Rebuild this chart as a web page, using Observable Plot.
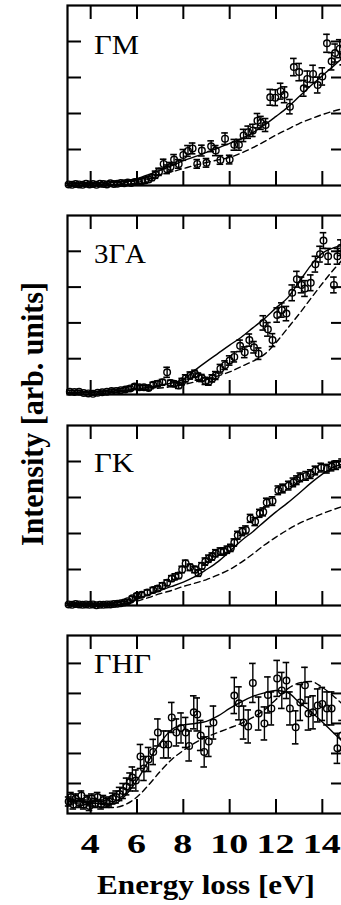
<!DOCTYPE html>
<html>
<head>
<meta charset="utf-8">
<script src="https://cdn.jsdelivr.net/npm/d3@7"></script>
<script src="https://cdn.jsdelivr.net/npm/@observablehq/plot@0.6"></script>
<style>
  html, body { margin: 0; padding: 0; background: #fff; }
  body { width: 341px; height: 905px; overflow: hidden; position: relative; }
  .panel { position: absolute; left: 0; }
  .panel svg { max-width: none !important; overflow: visible; }
  #labels { position: absolute; left: 0; top: 0; pointer-events: none; }
  #labels text { font-family: "Liberation Serif", "Times New Roman", Times, serif; }
</style>
</head>
<body>
<div id="root"></div>
<script>
// ---------- tick labels / names ----------
const energyTicks = [4, 6, 8, 10, 12, 14];
const intensityTicks5 = [1, 2, 3, 4];
const intensityTicks6 = [1, 2, 3, 4, 5];
const panelLabels = ["ΓM", "3ΓA", "ΓK", "ΓHΓ"];
const xAxisLabel = "Energy loss [eV]";
const yAxisLabel = "Intensity [arb. units]";

// ---------- theory curves (shared energy grid) ----------
const curveX = [3, 4, 5, 5.5, 6, 6.5, 7, 7.5, 8, 8.5, 9, 9.5, 10, 10.5, 11, 11.5, 12, 12.5, 13, 13.5, 14, 14.5, 15];
const gmSolid   = [0, 0, 0.02, 0.08, 0.19, 0.3, 0.42, 0.55, 0.69, 0.8, 0.92, 1.04, 1.17, 1.3, 1.47, 1.68, 1.92, 2.17, 2.47, 2.77, 3.05, 3.33, 3.62];
const gmDashed  = [0, 0, 0, 0.02, 0.08, 0.18, 0.3, 0.38, 0.47, 0.56, 0.64, 0.71, 0.78, 0.9, 1.05, 1.22, 1.4, 1.56, 1.72, 1.85, 1.97, 2.07, 2.15];
const gaSolid   = [0.05, 0.07, 0.1, 0.12, 0.15, 0.2, 0.26, 0.32, 0.42, 0.68, 0.92, 1.15, 1.38, 1.6, 1.86, 2.12, 2.42, 2.7, 3.15, 3.6, 3.95, 4.1, 4.2];
const gaDashed  = [0.05, 0.06, 0.08, 0.1, 0.12, 0.15, 0.18, 0.22, 0.28, 0.35, 0.42, 0.52, 0.63, 0.78, 0.93, 1.12, 1.45, 1.85, 2.25, 2.68, 3.1, 3.5, 3.85];
const gkSolid   = [0.03, 0.03, 0.03, 0.06, 0.18, 0.3, 0.42, 0.53, 0.65, 0.8, 1.0, 1.22, 1.5, 1.8, 2.05, 2.33, 2.6, 2.85, 3.12, 3.4, 3.65, 3.85, 3.95];
const gkDashed  = [0.02, 0.02, 0.02, 0.04, 0.12, 0.22, 0.33, 0.42, 0.53, 0.62, 0.72, 0.85, 1.0, 1.2, 1.43, 1.68, 1.9, 2.1, 2.28, 2.42, 2.55, 2.67, 2.78];
const ghSolid   = [0.5, 0.35, 0.32, 0.6, 1.1, 1.75, 2.35, 2.8, 2.95, 3.0, 3.07, 3.25, 3.5, 3.72, 3.9, 4.02, 4.1, 4.03, 3.7, 3.4, 3.05, 2.67, 2.3];
const ghDashed  = [0.3, 0.25, 0.2, 0.3, 0.55, 0.95, 1.4, 1.8, 2.1, 2.35, 2.55, 2.7, 2.85, 3.0, 3.2, 3.45, 3.8, 4.15, 4.35, 4.4, 4.2, 3.9, 3.55];

// ---------- experimental points ----------
const gmX = [3.05, 3.2, 3.35, 3.5, 3.65, 3.8, 3.95, 4.1, 4.25, 4.4, 4.55, 4.7, 4.85, 5.0, 5.15, 5.3, 5.45, 5.6, 5.75, 5.9, 6.05, 6.2, 6.35, 6.5, 6.65, 6.8, 6.95, 7.15, 7.3, 7.45, 7.6, 7.8, 8.0, 8.2, 8.4, 8.6, 8.8, 9.0, 9.2, 9.4, 9.6, 9.8, 10.0, 10.2, 10.4, 10.6, 10.8, 11.0, 11.2, 11.35, 11.55, 11.75, 11.97, 12.2, 12.37, 12.6, 12.77, 13.0, 13.2, 13.35, 13.6, 13.8, 14.0, 14.2, 14.4, 14.55, 14.75, 14.9];
const gmY = [0.03, 0.02, 0.04, 0.03, 0.02, 0.05, 0.03, 0.04, 0.02, 0.05, 0.04, 0.03, 0.06, 0.04, 0.05, 0.07, 0.06, 0.08, 0.07, 0.1, 0.1, 0.12, 0.14, 0.17, 0.22, 0.3, 0.38, 0.6, 0.45, 0.52, 0.72, 0.6, 0.85, 0.96, 1.03, 0.6, 0.97, 0.63, 1.09, 0.97, 0.71, 1.3, 0.72, 1.13, 1.13, 1.39, 1.48, 1.53, 1.8, 1.74, 1.68, 2.45, 2.44, 2.62, 2.52, 2.19, 3.29, 3.15, 2.7, 2.96, 3.1, 2.79, 3.03, 3.95, 3.45, 3.68, 3.8, 3.6];
const gmErr = [0.03, 0.03, 0.03, 0.03, 0.03, 0.03, 0.03, 0.03, 0.03, 0.03, 0.03, 0.03, 0.04, 0.04, 0.04, 0.04, 0.05, 0.05, 0.05, 0.06, 0.06, 0.07, 0.07, 0.08, 0.08, 0.1, 0.1, 0.13, 0.12, 0.12, 0.14, 0.12, 0.15, 0.15, 0.15, 0.12, 0.15, 0.12, 0.15, 0.14, 0.12, 0.16, 0.12, 0.15, 0.15, 0.17, 0.17, 0.17, 0.2, 0.18, 0.18, 0.22, 0.22, 0.22, 0.22, 0.2, 0.24, 0.24, 0.22, 0.22, 0.24, 0.22, 0.24, 0.25, 0.24, 0.25, 0.25, 0.25];

const gaX = [3.1, 3.3, 3.5, 3.7, 3.9, 4.1, 4.3, 4.5, 4.7, 4.9, 5.1, 5.3, 5.5, 5.7, 5.9, 6.1, 6.3, 6.5, 6.7, 6.9, 7.1, 7.3, 7.45, 7.6, 7.8, 7.95, 8.1, 8.3, 8.5, 8.65, 8.8, 8.95, 9.1, 9.25, 9.4, 9.6, 9.8, 10.0, 10.2, 10.45, 10.65, 10.85, 11.05, 11.25, 11.45, 11.65, 11.85, 12.05, 12.25, 12.45, 12.7, 12.9, 13.1, 13.25, 13.5, 13.7, 13.9, 14.05, 14.25, 14.5, 14.65, 14.8];
const gaY = [0.08, 0.07, 0.08, 0.04, 0.03, 0.02, 0.05, 0.06, 0.08, 0.1, 0.1, 0.12, 0.14, 0.17, 0.22, 0.2, 0.2, 0.18, 0.27, 0.3, 0.34, 0.62, 0.32, 0.3, 0.25, 0.36, 0.45, 0.53, 0.58, 0.5, 0.46, 0.38, 0.36, 0.45, 0.53, 0.72, 0.82, 0.95, 1.05, 1.36, 1.18, 1.52, 1.32, 1.14, 2.0, 1.82, 1.52, 2.22, 2.36, 2.26, 2.84, 3.22, 3.06, 2.96, 3.12, 3.64, 3.92, 4.3, 3.86, 3.06, 3.86, 4.1];
const gaErr = [0.04, 0.04, 0.04, 0.04, 0.04, 0.04, 0.04, 0.04, 0.04, 0.05, 0.05, 0.05, 0.05, 0.06, 0.06, 0.06, 0.06, 0.06, 0.07, 0.08, 0.08, 0.14, 0.08, 0.08, 0.08, 0.09, 0.1, 0.1, 0.1, 0.1, 0.1, 0.1, 0.1, 0.1, 0.11, 0.12, 0.12, 0.13, 0.14, 0.16, 0.15, 0.17, 0.16, 0.16, 0.2, 0.19, 0.18, 0.2, 0.2, 0.2, 0.22, 0.22, 0.22, 0.22, 0.22, 0.22, 0.22, 0.22, 0.22, 0.22, 0.22, 0.22];

const gkX = [3.05, 3.2, 3.35, 3.5, 3.65, 3.8, 3.95, 4.1, 4.25, 4.4, 4.55, 4.7, 4.85, 5.0, 5.15, 5.3, 5.45, 5.6, 5.8, 6.0, 6.2, 6.45, 6.7, 6.9, 7.1, 7.3, 7.5, 7.65, 7.8, 7.95, 8.1, 8.3, 8.5, 8.65, 8.8, 8.95, 9.1, 9.25, 9.4, 9.6, 9.75, 9.9, 10.05, 10.2, 10.35, 10.55, 10.7, 10.9, 11.1, 11.3, 11.45, 11.6, 11.85, 12.1, 12.3, 12.55, 12.75, 12.9, 13.05, 13.3, 13.5, 13.7, 13.95, 14.2, 14.4, 14.6, 14.85];
const gkY = [0.03, 0.02, 0.04, 0.03, 0.02, 0.03, 0.02, 0.03, 0.01, 0.02, 0.02, 0.03, 0.03, 0.04, 0.05, 0.06, 0.08, 0.12, 0.2, 0.27, 0.3, 0.36, 0.43, 0.47, 0.55, 0.63, 0.75, 0.8, 0.83, 1.0, 1.17, 1.06, 1.0, 0.9, 1.1, 1.22, 1.3, 1.36, 1.45, 1.5, 1.5, 1.55, 1.6, 1.75, 1.95, 2.05, 2.1, 2.42, 2.33, 2.56, 2.6, 2.86, 2.9, 3.2, 3.25, 3.33, 3.42, 3.48, 3.56, 3.6, 3.65, 3.75, 3.83, 3.8, 3.86, 3.9, 3.95];
const gkErr = [0.03, 0.03, 0.03, 0.03, 0.03, 0.03, 0.03, 0.03, 0.03, 0.03, 0.03, 0.03, 0.03, 0.03, 0.03, 0.04, 0.04, 0.05, 0.05, 0.06, 0.06, 0.07, 0.07, 0.07, 0.08, 0.08, 0.08, 0.08, 0.08, 0.09, 0.09, 0.09, 0.09, 0.09, 0.09, 0.1, 0.1, 0.1, 0.1, 0.1, 0.1, 0.1, 0.1, 0.1, 0.11, 0.11, 0.11, 0.11, 0.11, 0.11, 0.11, 0.12, 0.12, 0.12, 0.12, 0.12, 0.12, 0.12, 0.12, 0.12, 0.12, 0.12, 0.12, 0.12, 0.12, 0.12, 0.12];

const ghX = [3.05, 3.15, 3.25, 3.35, 3.5, 3.6, 3.7, 3.85, 3.95, 4.05, 4.2, 4.3, 4.45, 4.55, 4.7, 4.8, 4.95, 5.1, 5.25, 5.4, 5.55, 5.7, 5.8, 5.95, 6.15, 6.3, 6.5, 6.7, 6.9, 7.15, 7.35, 7.5, 7.7, 7.9, 8.1, 8.25, 8.45, 8.6, 8.75, 8.9, 9.1, 9.3, 10.2, 10.4, 10.6, 10.8, 11.0, 11.25, 11.5, 11.65, 11.8, 12.05, 12.25, 12.45, 12.6, 12.85, 13.05, 13.25, 13.4, 13.6, 13.8, 14.0, 14.2, 14.4, 14.65, 14.85];
const ghY = [0.4, 0.55, 0.3, 0.5, 0.35, 0.6, 0.3, 0.45, 0.25, 0.5, 0.35, 0.55, 0.3, 0.45, 0.35, 0.4, 0.5, 0.55, 0.65, 0.75, 0.9, 1.05, 1.2, 1.1, 1.9, 1.5, 1.8, 2.05, 2.7, 2.3, 2.3, 3.2, 2.7, 2.85, 2.7, 2.25, 3.37, 3.3, 2.6, 2.05, 2.4, 3.03, 3.93, 3.67, 3.03, 2.9, 4.35, 3.33, 3.0, 3.95, 3.5, 4.5, 4.1, 4.43, 3.5, 2.87, 3.7, 4.27, 3.33, 3.37, 3.6, 3.65, 3.5, 3.5, 2.17, 2.6];
const ghErr = [0.15, 0.15, 0.15, 0.15, 0.15, 0.15, 0.15, 0.15, 0.15, 0.15, 0.15, 0.15, 0.15, 0.15, 0.15, 0.15, 0.18, 0.2, 0.22, 0.25, 0.28, 0.3, 0.35, 0.35, 0.4, 0.4, 0.4, 0.42, 0.45, 0.45, 0.45, 0.5, 0.45, 0.5, 0.5, 0.5, 0.55, 0.55, 0.5, 0.5, 0.5, 0.55, 0.6, 0.55, 0.55, 0.55, 0.65, 0.55, 0.55, 0.6, 0.55, 0.6, 0.6, 0.6, 0.55, 0.55, 0.6, 0.6, 0.55, 0.55, 0.55, 0.55, 0.55, 0.55, 0.5, 0.5];

// ---------- layout ----------
const FRAME_LEFT = 67, FRAME_RIGHT = 345;
const TICK_LEN = 14;
const panels = [
  {top: 5,   h: 180, yMax: 5,    yTicks: intensityTicks5, label: panelLabels[0], labelW: 45, labelBase: 54,  x: gmX, y: gmY, e: gmErr, solid: gmSolid, dashed: gmDashed},
  {top: 215, h: 179, yMax: 5,    yTicks: intensityTicks5, label: panelLabels[1], labelW: 52, labelBase: 263, x: gaX, y: gaY, e: gaErr, solid: gaSolid, dashed: gaDashed},
  {top: 425, h: 180, yMax: 5,    yTicks: intensityTicks5, label: panelLabels[2], labelW: 40, labelBase: 472, x: gkX, y: gkY, e: gkErr, solid: gkSolid, dashed: gkDashed},
  {top: 635, h: 178, yMax: 5.93, yTicks: intensityTicks6, label: panelLabels[3], labelW: 57, labelBase: 673, x: ghX, y: ghY, e: ghErr, solid: ghSolid, dashed: ghDashed}
];

const root = document.getElementById("root");
const M = 4;
let lastPlot = null;
const xDomain = [3, 15];

panels.forEach(p => {
  const pts = p.x.map((x, i) => ({x, y: p.y[i], e: p.e[i]}));
  const curves = curveX.map((x, i) => ({x, s: p.solid[i], d: p.dashed[i]}));
  const yLen = TICK_LEN * p.yMax / p.h;
  const xLen = TICK_LEN * (xDomain[1] - xDomain[0]) / (FRAME_RIGHT - FRAME_LEFT);
  const cap = 3.3 * (xDomain[1] - xDomain[0]) / (FRAME_RIGHT - FRAME_LEFT);
  const plot = Plot.plot({
    width: FRAME_RIGHT + M,
    height: p.h + 2 * M,
    marginLeft: FRAME_LEFT,
    marginRight: M,
    marginTop: M,
    marginBottom: M,
    x: {domain: xDomain, axis: null},
    y: {domain: [0, p.yMax], axis: null},
    style: {background: "transparent", overflow: "visible"},
    marks: [
      Plot.line(curves, {x: "x", y: "d", stroke: "black", strokeWidth: 1.4, strokeDasharray: "6,4", curve: "monotone-x"}),
      Plot.line(curves, {x: "x", y: "s", stroke: "black", strokeWidth: 1.4, curve: "monotone-x"}),
      Plot.ruleX(pts, {x: "x", y1: d => d.y - d.e, y2: d => d.y + d.e, stroke: "black", strokeWidth: 1.4}),
      Plot.ruleY(pts, {y: d => d.y + d.e, x1: d => d.x - cap, x2: d => d.x + cap, stroke: "black", strokeWidth: 1.6}),
      Plot.ruleY(pts, {y: d => d.y - d.e, x1: d => d.x - cap, x2: d => d.x + cap, stroke: "black", strokeWidth: 1.6}),
      Plot.dot(pts, {x: "x", y: "y", r: 3.3, stroke: "black", strokeWidth: 1.4, fill: "none"}),
      Plot.ruleX(energyTicks, {x: d => d, y1: 0, y2: yLen, stroke: "black", strokeWidth: 2}),
      Plot.ruleX(energyTicks, {x: d => d, y1: p.yMax, y2: p.yMax - yLen, stroke: "black", strokeWidth: 2}),
      Plot.ruleY(p.yTicks, {y: d => d, x1: xDomain[0], x2: xDomain[0] + xLen, stroke: "black", strokeWidth: 2}),
      Plot.ruleY(p.yTicks, {y: d => d, x1: xDomain[1], x2: xDomain[1] - xLen, stroke: "black", strokeWidth: 2}),
      Plot.frame({stroke: "black", strokeWidth: 2.2})
    ]
  });
  plot.style.maxWidth = "none";
  const wrap = document.createElement("div");
  wrap.className = "panel";
  wrap.style.top = (p.top - M) + "px";
  wrap.appendChild(plot);
  root.appendChild(wrap);
  lastPlot = plot;
});

// ---------- text overlay (widths fitted to the reference) ----------
const svg = d3.select("body").append("svg")
  .attr("id", "labels").attr("width", 341).attr("height", 905);

function fitted(sel, target) {
  const len = sel.node().getComputedTextLength();
  return len > 0 ? target / len : 1;
}

panels.forEach(p => {
  const t = svg.append("text")
    .attr("font-size", 27)
    .text(p.label);
  const k = fitted(t, p.labelW);
  t.attr("transform", `translate(94,${p.labelBase}) scale(${k},1)`);
});

const xs = lastPlot.scale("x");
const probe = svg.append("text").attr("font-weight", "bold").attr("font-size", 27).text("10");
const tickK = fitted(probe, 38);
probe.remove();
energyTicks.forEach(t => {
  svg.append("text")
    .attr("transform", `translate(${xs.apply(t)},853) scale(${tickK},1)`)
    .attr("text-anchor", "middle")
    .attr("font-weight", "bold").attr("font-size", 27)
    .text(t);
});

const xl = svg.append("text")
  .attr("text-anchor", "middle")
  .attr("font-weight", "bold").attr("font-size", 27)
  .text(xAxisLabel);
xl.attr("transform", `translate(206,894) scale(${fitted(xl, 218)},1)`);

const yl = svg.append("text")
  .attr("text-anchor", "middle")
  .attr("font-weight", "bold").attr("font-size", 31)
  .text(yAxisLabel);
yl.attr("transform", `translate(43,414) rotate(-90) scale(${fitted(yl, 264)},1)`);
</script>
</body>
</html>
